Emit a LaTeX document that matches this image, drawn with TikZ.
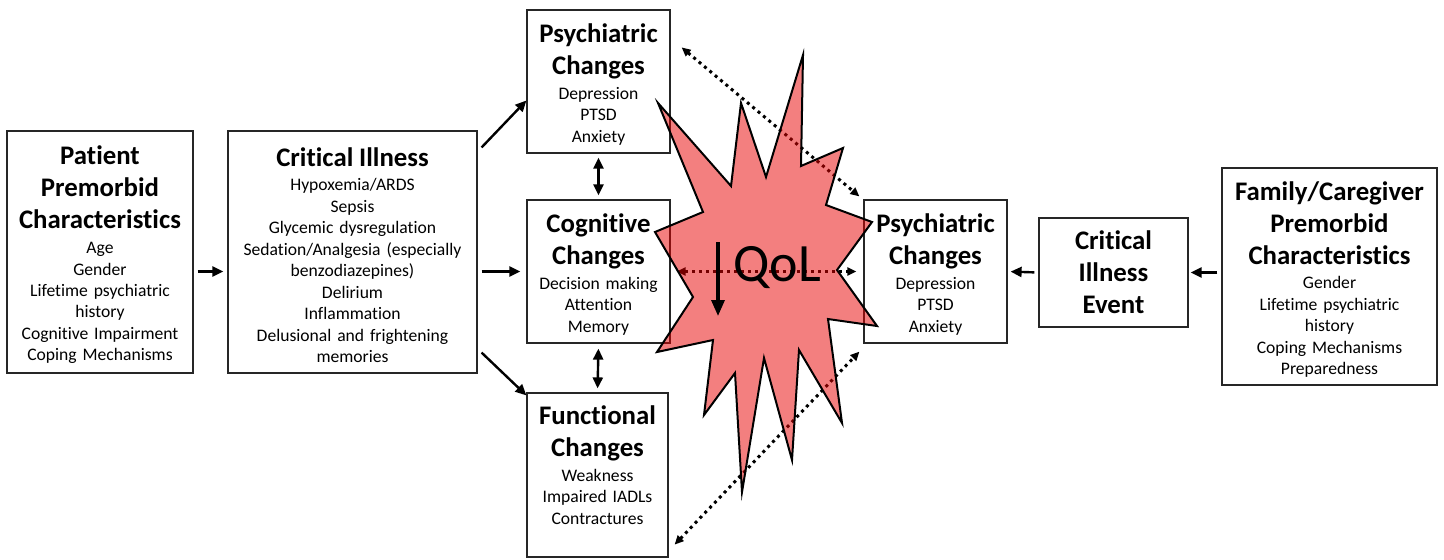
\documentclass[tikz,border=0pt]{standalone}
\usepackage{fontspec}
\setmainfont{Carlito}[Ligatures=NoCommon]
\usetikzlibrary{arrows.meta}
\setlength{\parindent}{0pt}
\newcommand{\bodyfont}{\fontsize{8.8}{10.75}\selectfont}
\newcommand{\hdfont}{\fontsize{13.4}{16}\selectfont\bfseries}
\newcommand{\hd}[1]{{\hdfont\rule{0pt}{12.5pt}#1\par}\vspace{1.5pt}}
\definecolor{burst}{RGB}{232,0,0}
\begin{document}
\begin{tikzpicture}[x=0.5pt,y=-0.5pt,>={Triangle[length=5.5pt,width=5pt]},
  box/.style={draw=black!85,fill=white,line width=0.6pt,inner sep=0pt,align=center,font=\bodyfont},
  arr/.style={->,line width=1.2pt},
  darr/.style={<->,line width=1.2pt},
  dotarr/.style={{Triangle[length=4.5pt,width=4pt]}-{Triangle[length=4.5pt,width=4pt]},line width=1.5pt,dash pattern=on 1.5pt off 2pt}]
\useasboundingbox (0,0) rectangle (1444,559);
% boxes
\node[box,text width=93pt,minimum height=121pt] (pat) at (100,252)
  {\hd{Patient\\Premorbid\\Characteristics}Age\\Gender\\Lifetime psychiatric\\history\\Cognitive Impairment\\Coping Mechanisms};
\node[box,text width=124.5pt,minimum height=121pt] (crit) at (352.5,252)
  {\hd{Critical Illness}Hypoxemia/ARDS\\Sepsis\\Glycemic dysregulation\\Sedation/Analgesia (especially\\benzodiazepines)\\Delirium\\Inflammation\\Delusional and frightening\\memories};
\node[box,text width=71.5pt,minimum height=71.5pt] (psy1) at (598.5,81.5)
  {\hd{Psychiatric\\Changes}Depression\\PTSD\\Anxiety};
\node[box,text width=71.5pt,minimum height=71.5pt] (cog) at (598.5,271.5)
  {\hd{Cognitive\\Changes}Decision making\\Attention\\Memory};
\node[box,text width=70.5pt,minimum height=82pt] (fun) at (597.5,475)
  {\hd{Functional\\Changes}Weakness\\Impaired IADLs\\Contractures\rule[-13pt]{0pt}{0pt}};
\node[box,text width=71.5pt,minimum height=71.5pt] (psy2) at (935.5,271.5)
  {\hd{Psychiatric\\Changes}Depression\\PTSD\\Anxiety};
\node[box,text width=74.5pt,minimum height=54.5pt] (cie) at (1113.5,272.5)
  {{\hdfont Critical\\Illness\\Event\par}};
\node[box,text width=107.5pt,minimum height=108.5pt] (fam) at (1329.5,276.5)
  {\hd{Family/Caregiver\\Premorbid\\Characteristics}Gender\\Lifetime psychiatric\\history\\Coping Mechanisms\\Preparedness};
% solid arrows
\draw[arr,shorten <=2pt,shorten >=2pt] (pat.east |- cog) -- (crit.west |- cog);
\draw[arr,shorten <=2pt,shorten >=3pt] (crit.east |- cog) -- (cog.west);
\draw[arr] ([shift={(4,17)}]crit.north east) -- ([shift={(0,19)}]psy1.west);
\draw[arr] ([shift={(4,-21)}]crit.south east) -- ([shift={(0,3)}]fun.north west);
\draw[darr,shorten <=2pt,shorten >=2pt] (psy1.south) -- (cog.north);
\draw[darr,shorten <=2.5pt,shorten >=2pt] (cog.south) -- (fun.north);
\draw[arr,shorten <=2pt,shorten >=1.5pt] (cie.west) -- (psy2.east);
\draw[arr,shorten <=2pt,shorten >=1pt] (fam.west |- cie) -- (cie.east);
% dotted links
\draw[dotarr] ([shift={(11,38)}]psy1.north east) -- ([shift={(-4,-3)}]psy2.north west);
\draw[dotarr,shorten <=3pt,shorten >=3.5pt] (cog.east) -- (psy2.west);
\draw[dotarr] ([shift={(6,-13)}]fun.south east) -- ([shift={(-4,8)}]psy2.south west);
% burst
\draw[fill=burst,fill opacity=0.5,line width=1pt,line join=miter]
  (658,103) -- (731,186) -- (741,103) -- (766,177) -- (803,55) -- (801,166)
  -- (843,148) -- (826,205) -- (872,222) -- (837,270) -- (877,326) -- (828,319)
  -- (842,423) -- (799,350) -- (792,460) -- (764,358) -- (742,492) -- (735,373)
  -- (704,415) -- (713,340) -- (657,352) -- (693,297) -- (655,232) -- (703,212) -- cycle;
\node[font=\fontsize{27}{30}\selectfont] (qol) at (777,268) {QoL};
\coordinate (qtop) at (718,242);
\coordinate (qbot) at (718,316);
\draw[-{Triangle[length=8pt,width=6.5pt]},line width=1.6pt] (qtop) -- (qbot);
\end{tikzpicture}
\end{document}
